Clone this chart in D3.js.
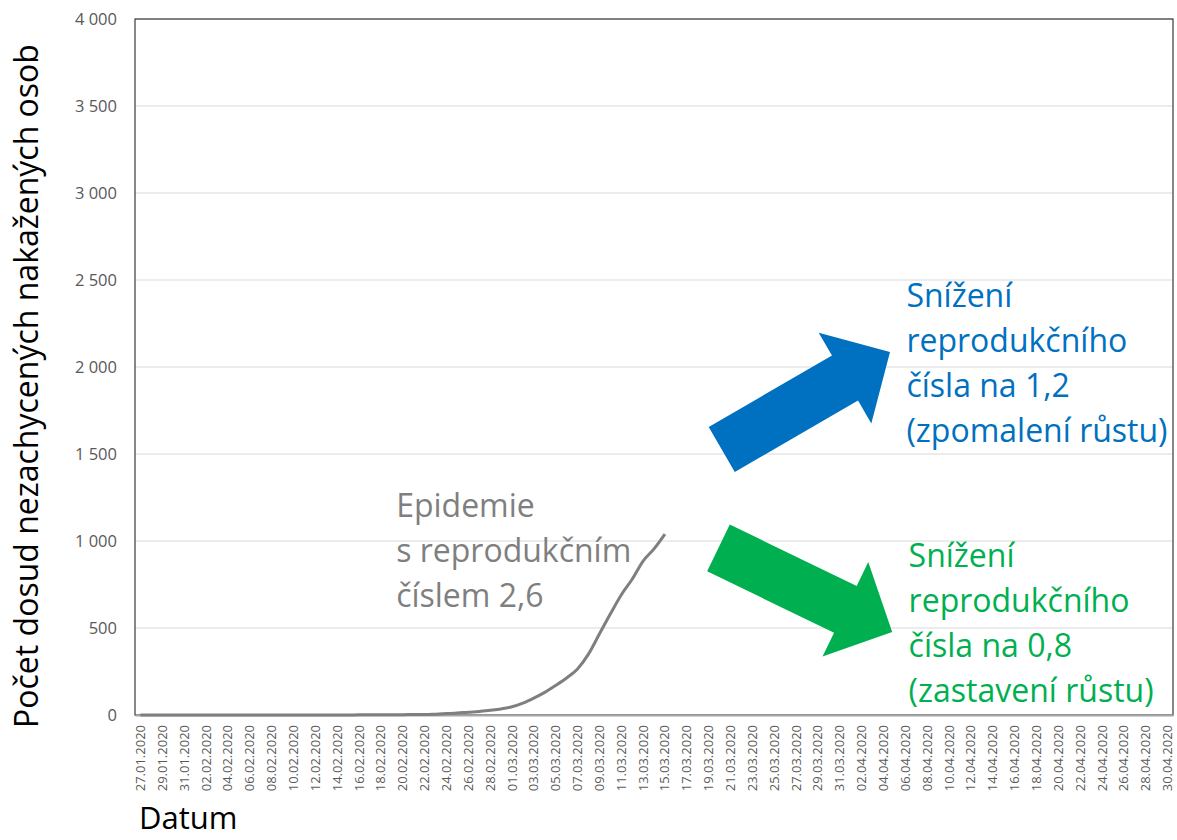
<!DOCTYPE html>
<html>
<head>
<meta charset="utf-8">
<script src="https://cdn.jsdelivr.net/npm/d3@7"></script>
<style>
  body { margin: 0; background: #fff; }
  svg { display: block; font-family: "Open Sans", sans-serif; }
</style>
</head>
<body>
<div id="chart"></div>
<script>
// categories: every day from 27.01.2020 to 30.04.2020
const startDate = new Date(2020, 0, 27);
const endDate = new Date(2020, 3, 30);

// odhad nezachycených nakažených osob, 27.01. - 15.03.
const infected = [
  0, 0, 0, 0, 0, 0, 0, 0, 0, 0,
  0, 0, 0, 0, 0, 0, 0, 0, 0, 0,
  1, 1, 1, 2, 2, 3, 3, 5, 8, 11,
  16, 20, 27, 35, 47, 68, 97, 130, 170, 213,
  265, 350, 465, 580, 690, 780, 885, 955, 1040
];

const yTicks = [0, 500, 1000, 1500, 2000, 2500, 3000, 3500, 4000];

const yTitle = "Počet dosud nezachycených nakažených osob";
const xTitle = "Datum";

const noteGray = ["Epidemie", "s reprodukčním", "číslem 2,6"];
const noteBlue = ["Snížení", "reprodukčního", "čísla na 1,2", "(zpomalení růstu)"];
const noteGreen = ["Snížení", "reprodukčního", "čísla na 0,8", "(zastavení růstu)"];

// arrows in (day index, value) units
const arrowBlue = { from: [53.2, 1526], to: [68.6, 2086] };
const arrowGreen = { from: [52.9, 960], to: [68.8, 477] };

const width = 1177, height = 840;
const margin = {top: 19, right: 4, bottom: 125, left: 135};
const font = "'Open Sans', sans-serif";

let svg = d3.select("#chart").append("svg")
    .attr("width", width)
    .attr("height", height);

let days = d3.timeDay.range(startDate, d3.timeDay.offset(endDate, 1));
let fmtDay = d3.timeFormat("%d.%m.%Y");
let labels = days.map(d => fmtDay(d));

let x = d3.scaleBand()
    .domain(labels)
    .range([margin.left, width - margin.right])
    .padding(0);

let bw = x.bandwidth();
// linear helper for the annotations (day index -> pixel)
let xi = d3.scaleLinear()
    .domain([0, labels.length - 1])
    .range([x(labels[0]) + bw / 2, x(labels[labels.length - 1]) + bw / 2]);

let y = d3.scaleLinear()
    .domain([0, 4000])
    .range([height - margin.bottom, margin.top]);

let cz = d3.formatLocale({decimal: ",", thousands: " ", grouping: [3], currency: ["", ""]});
let fmtNum = cz.format(",d");

// gridlines
svg.append("g")
    .selectAll("line")
    .data(yTicks.filter(d => d > 0))
    .join("line")
    .attr("x1", margin.left)
    .attr("x2", width - margin.right)
    .attr("y1", d => y(d))
    .attr("y2", d => y(d))
    .attr("stroke", "#d9d9d9")
    .attr("stroke-width", 1);

// plot frame
svg.append("rect")
    .attr("x", margin.left)
    .attr("y", y(4000))
    .attr("width", width - margin.right - margin.left)
    .attr("height", y(0) - y(4000))
    .attr("fill", "none")
    .attr("stroke", "#3a3a3a")
    .attr("stroke-width", 1.2);

// y axis labels
let yAxis = svg.append("g")
    .attr("transform", `translate(${margin.left},0)`)
    .call(d3.axisLeft(y).tickValues(yTicks).tickSize(0).tickPadding(18).tickFormat(fmtNum));
yAxis.select(".domain").remove();
yAxis.selectAll("text")
    .attr("fill", "#595959")
    .style("font-size", "16.5px")
    .style("font-family", font);

// x axis
let xAxis = svg.append("g")
    .attr("transform", `translate(0,${y(0)})`)
    .call(d3.axisBottom(x).tickValues(labels.filter((d, i) => i % 2 === 0)).tickSize(0));
xAxis.select(".domain")
    .attr("stroke", "#a6a6a6")
    .attr("stroke-width", 2);
xAxis.selectAll("text")
    .attr("fill", "#595959")
    .style("font-size", "13px")
    .style("font-family", font)
    .attr("text-anchor", "end")
    .attr("transform", "rotate(-90)")
    .attr("x", -10)
    .attr("y", 0)
    .attr("dy", "0.35em");

// the epidemic curve
let line = d3.line()
    .x((d, i) => x(labels[i]) + bw / 2)
    .y(d => y(d))
    .curve(d3.curveMonotoneX);

svg.append("path")
    .datum(infected)
    .attr("d", line)
    .attr("fill", "none")
    .attr("stroke", "#7f7f7f")
    .attr("stroke-width", 3)
    .attr("stroke-linejoin", "round");

// arrows
function arrowPoints(a) {
    let x0 = xi(a.from[0]), y0 = y(a.from[1]);
    let x1 = xi(a.to[0]), y1 = y(a.to[1]);
    let len = Math.hypot(x1 - x0, y1 - y0);
    let ux = (x1 - x0) / len, uy = (y1 - y0) / len;
    let nx = -uy, ny = ux;
    let shaft = 26, head = 52.5, headLen = 52;
    let bx = x1 - ux * headLen, by = y1 - uy * headLen;
    return [
        [x0 + nx * shaft, y0 + ny * shaft],
        [bx + nx * shaft, by + ny * shaft],
        [bx + nx * head, by + ny * head],
        [x1, y1],
        [bx - nx * head, by - ny * head],
        [bx - nx * shaft, by - ny * shaft],
        [x0 - nx * shaft, y0 - ny * shaft]
    ];
}

svg.append("polygon")
    .attr("points", arrowPoints(arrowBlue).map(p => p.join(",")).join(" "))
    .attr("fill", "#0070c0");

svg.append("polygon")
    .attr("points", arrowPoints(arrowGreen).map(p => p.join(",")).join(" "))
    .attr("fill", "#00b050");

// text notes
function note(lines, ix, v, color) {
    let t = svg.append("text")
        .attr("x", xi(ix))
        .attr("y", y(v))
        .attr("fill", color)
        .style("font-size", "32px");
    t.selectAll("tspan")
        .data(lines)
        .join("tspan")
        .attr("x", xi(ix))
        .attr("dy", (d, i) => i === 0 ? 0 : 45)
        .text(d => d);
}

note(noteGray, 23.4, 1140, "#7f7f7f");
note(noteBlue, 70.1, 2347, "#0070c0");
note(noteGreen, 70.3, 851, "#00b050");

// axis titles
svg.append("text")
    .attr("transform", `translate(38,386) rotate(-90)`)
    .attr("text-anchor", "middle")
    .attr("fill", "#000")
    .style("font-size", "32px")
    .text(yTitle);

svg.append("text")
    .attr("x", 139)
    .attr("y", 829)
    .attr("fill", "#000")
    .style("font-size", "31px")
    .text(xTitle);
</script>
</body>
</html>
